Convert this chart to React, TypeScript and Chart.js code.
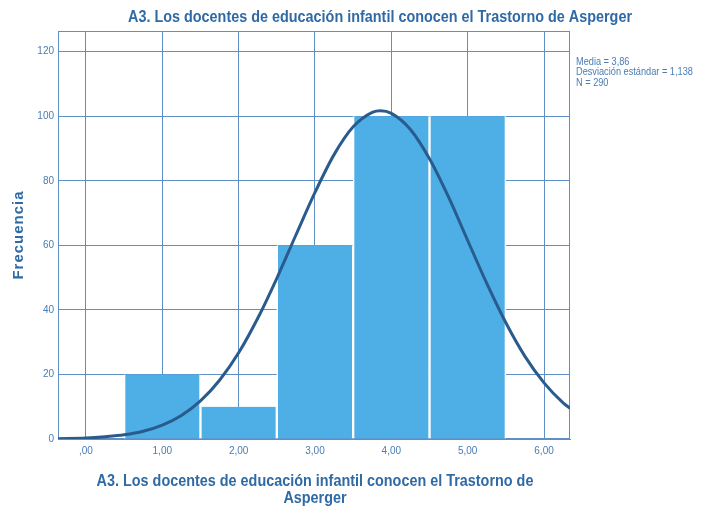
import React, { useEffect, useRef } from "react";
import { Chart, registerables } from "chart.js";

Chart.register(...registerables);

const chartTitle = "A3. Los docentes de educación infantil conocen el Trastorno de Asperger";
const xAxisTitle = ["A3. Los docentes de educación infantil conocen el Trastorno de", "Asperger"];
const yAxisTitle = "Frecuencia";
const statsLines = ["Media = 3,86", "Desviación estándar = 1,138", "N = 290"];

const binCenters = [1, 2, 3, 4, 5];
const frequencies = [20, 10, 60, 100, 100];

// Fitted normal curve
const curveX = [-0.37, 0, 0.25, 0.5, 0.75, 1, 1.25, 1.5, 1.75, 2, 2.25, 2.5, 2.75, 3, 3.25, 3.5, 3.75, 3.86, 4, 4.25, 4.5, 4.75, 5, 5.25, 5.5, 5.75, 6, 6.25, 6.34];
const curveY = [0.1, 0.3, 0.7, 1.3, 2.4, 4.3, 7.3, 11.8, 18.2, 26.7, 37.4, 49.8, 63.2, 76.4, 88.1, 96.7, 101.2, 101.7, 100.9, 95.9, 86.8, 74.9, 61.5, 48.2, 36.0, 25.6, 17.4, 11.2, 9.5];

const xMin = -0.366;
const xMax = 6.34;
const yMin = 0;
const yMax = 126.4;

const GRID = "#5f8fc4";
const TICK = "#4a7cb3";
const TITLE = "#2f6aa5";
const BAR = "#4eaee6";
const CURVE = "#2a5b8d";
const SANS = "'Liberation Sans', Arial, sans-serif";

function drawCondensed(ctx: CanvasRenderingContext2D, text: string, cx: number, cy: number, sx: number) {
  ctx.save();
  ctx.translate(cx, cy);
  ctx.scale(sx, 1);
  ctx.fillText(text, 0, 0);
  ctx.restore();
}

const overlayPlugin = {
  id: "overlay",
  beforeDatasetsDraw(chart: any) {
    const { ctx, chartArea } = chart;
    ctx.save();
    ctx.strokeStyle = GRID;
    ctx.lineWidth = 1;
    ctx.strokeRect(chartArea.left + 0.5, chartArea.top + 0.5, chartArea.right - chartArea.left - 1, chartArea.bottom - chartArea.top - 1);
    ctx.restore();
  },
  afterDraw(chart: any) {
    const { ctx, chartArea } = chart;
    ctx.save();
    ctx.fillStyle = TITLE;
    ctx.textAlign = "center";
    ctx.textBaseline = "middle";
    // main title (condensed look)
    ctx.font = `bold 16px ${SANS}`;
    const w = ctx.measureText(chartTitle).width;
    const sx = 504 / w;
    drawCondensed(ctx, chartTitle, 380, 18, sx);
    // x-axis title
    const cx = (chartArea.left + chartArea.right) / 2 + 1;
    drawCondensed(ctx, xAxisTitle[0], cx, 482, sx);
    drawCondensed(ctx, xAxisTitle[1], cx, 499, sx);
    // y-axis title
    ctx.save();
    ctx.translate(19, (chartArea.top + chartArea.bottom) / 2);
    ctx.rotate(-Math.PI / 2);
    ctx.font = `bold 15px ${SANS}`;
    (ctx as any).letterSpacing = "1px";
    ctx.fillText(yAxisTitle, 0, 0);
    ctx.restore();
    // stats
    ctx.font = `10px ${SANS}`;
    ctx.fillStyle = TICK;
    ctx.textAlign = "left";
    statsLines.forEach((t, i) => {
      drawCondensed(ctx, t, chartArea.right + 6, 62 + i * 10.5, 0.92);
    });
    ctx.restore();
  },
};

export default function App() {
  const ref = useRef<HTMLCanvasElement | null>(null);
  useEffect(() => {
    if (!ref.current) return;
    const chart = new Chart(ref.current, {
      type: "bar",
      data: {
        datasets: [
          {
            type: "line",
            data: curveX.map((x, i) => ({ x, y: curveY[i] })),
            borderColor: CURVE,
            borderWidth: 3,
            pointRadius: 0,
            cubicInterpolationMode: "monotone",
            fill: false,
            order: 0,
          } as any,
          {
            type: "bar",
            data: binCenters.map((x, i) => ({ x, y: frequencies[i] })),
            backgroundColor: BAR,
            borderColor: "#ffffff",
            borderWidth: { left: 1.5, right: 1.5, top: 0, bottom: 0 },
            borderSkipped: false,
            barPercentage: 1,
            categoryPercentage: 1,
            order: 1,
          } as any,
        ],
      },
      options: {
        animation: false,
        responsive: false,
        maintainAspectRatio: false,
        layout: { padding: { top: 31, right: 132, left: 0, bottom: 0 } },
        plugins: { legend: { display: false }, tooltip: { enabled: false }, title: { display: false } },
        scales: {
          x: {
            type: "linear",
            min: xMin,
            max: xMax,
            offset: false,
            afterFit: (s: any) => { s.height = 69; },
            ticks: {
              stepSize: 1,
              includeBounds: false,
              color: TICK,
              font: { family: SANS, size: 10 },
              padding: 6,
              maxRotation: 0,
              callback: (v: any) => (Number(v) === 0 ? ",00" : Number(v).toFixed(2).replace(".", ",")),
            },
            grid: { color: GRID, drawTicks: false, lineWidth: 1, offset: false },
            border: { color: GRID },
          },
          y: {
            type: "linear",
            min: yMin,
            max: yMax,
            afterFit: (s: any) => { s.width = 58; },
            ticks: {
              stepSize: 20,
              includeBounds: false,
              color: TICK,
              font: { family: SANS, size: 10 },
              padding: 4,
            },
            grid: { color: GRID, drawTicks: false, lineWidth: 1 },
            border: { color: GRID },
          },
        },
      },
      plugins: [overlayPlugin],
    } as any);
    return () => chart.destroy();
  }, []);
  return (
    <div style={{ position: "absolute", left: 0, top: 0, width: 702, height: 508, background: "#ffffff" }}>
      <canvas ref={ref} width={702} height={508} style={{ width: 702, height: 508, display: "block" }} />
    </div>
  );
}
